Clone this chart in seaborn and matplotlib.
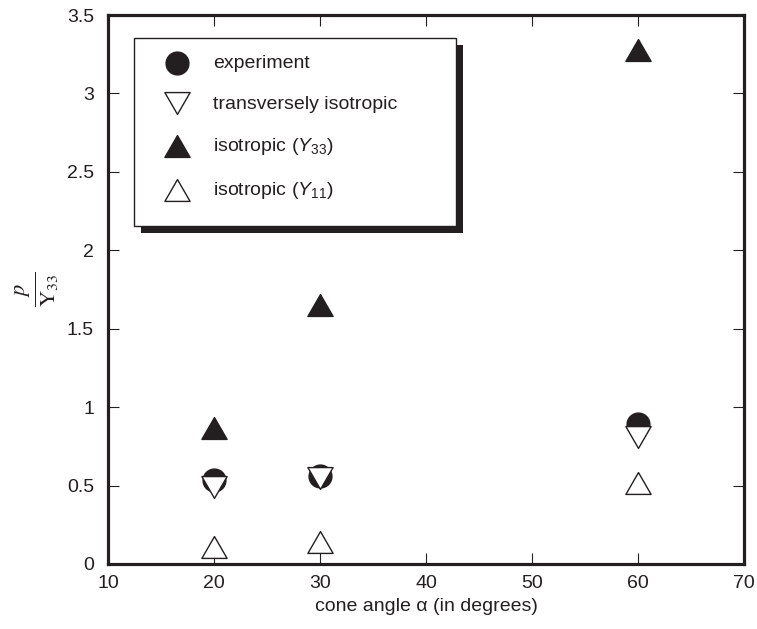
import numpy as np
import pandas as pd
import seaborn as sns
import matplotlib
matplotlib.use('Agg')
import matplotlib.pyplot as plt
from matplotlib.patches import Rectangle, Shadow
from matplotlib.path import Path

# values
angles = [20, 30, 60]
experiment = [0.535, 0.56, 0.89]
transversely_isotropic = [0.49, 0.55, 0.81]
isotropic_y33 = [0.87, 1.65, 3.28]
isotropic_y11 = [0.108, 0.14, 0.516]

sns.set_style("ticks")
plt.rcParams['font.family'] = ['Liberation Sans', 'DejaVu Sans']
plt.rcParams['mathtext.fontset'] = 'custom'
plt.rcParams['mathtext.rm'] = 'Liberation Sans'
plt.rcParams['mathtext.it'] = 'Liberation Sans:italic'

ink = '#231f20'
fs = 14

# equilateral triangles (matplotlib's default ones are too tall)
h = np.sqrt(3) / 2
tri_up = Path([(-1, -h), (1, -h), (0, h), (-1, -h)], closed=True)
tri_down = Path([(-1, h), (1, h), (0, -h), (-1, h)], closed=True)

df = pd.DataFrame({
    "angle": angles,
    "experiment": experiment,
    "transverse": transversely_isotropic,
    "y33": isotropic_y33,
    "y11": isotropic_y11,
})

fig = plt.figure(figsize=(7.57, 6.29), dpi=100)
ax = fig.add_axes([108 / 757, 1 - 564 / 629, 636 / 757, 549 / 629])

series = [
    ("experiment", "o", ink, 270, "experiment"),
    ("transverse", tri_down, "white", 330, "transversely isotropic"),
    ("y33", tri_up, ink, 330, r"isotropic ($\mathit{Y_{33}}$)"),
    ("y11", tri_up, "white", 330, r"isotropic ($\mathit{Y_{11}}$)"),
]
for col, marker, face, size, label in series:
    sns.scatterplot(data=df, x="angle", y=col, marker=marker, s=size,
                    color=face, edgecolor=ink, linewidth=1.0, label=label,
                    ax=ax, zorder=3)

ax.set_xlim(10, 70)
ax.set_ylim(0, 3.5)
ax.set_xticks([10, 20, 30, 40, 50, 60, 70])
ax.set_yticks([0, 0.5, 1, 1.5, 2, 2.5, 3, 3.5])
ax.set_yticklabels(["0", "0.5", "1", "1.5", "2", "2.5", "3", "3.5"])
ax.tick_params(axis='both', direction='in', length=8, width=0.8, color=ink,
               labelsize=fs, labelcolor=ink, top=True, right=True)
ax.tick_params(axis='x', pad=8)
ax.tick_params(axis='y', pad=10)
for sp in ax.spines.values():
    sp.set_visible(True)
    sp.set_linewidth(2.3)
    sp.set_color(ink)

ax.set_xlabel("cone angle \u03b1 (in degrees)", fontsize=fs, color=ink, labelpad=4)
ax.set_ylabel(r"$\frac{\mathit{p}}{\mathrm{Y}_{33}}$", fontsize=23, color=ink,
              math_fontfamily='stix', labelpad=4)

# legend box with a drop shadow, placed in figure pixels
to_fig = lambda x, y: (x / 757, 1 - y / 629)
x0, y0 = to_fig(134, 226)
box = Rectangle((x0, y0), 322 / 757, 188 / 629, transform=fig.transFigure,
                facecolor='white', edgecolor=ink, linewidth=1.0, zorder=4.5,
                clip_on=False)
shadow = Shadow(box, 5 / 757, -5 / 629, facecolor=ink, edgecolor='none',
                alpha=1, zorder=4.4)
shadow.set_clip_on(False)
ax.add_patch(shadow)
ax.add_patch(box)

leg = ax.legend(loc='upper left', bbox_to_anchor=to_fig(158, 54),
                bbox_transform=fig.transFigure, frameon=False, fontsize=fs,
                borderpad=0, borderaxespad=0, handlelength=2.0,
                handletextpad=0.85, labelspacing=1.2)
leg.set_zorder(6)
for t in leg.get_texts():
    t.set_color(ink)

fig.savefig("out.png", dpi=100)
